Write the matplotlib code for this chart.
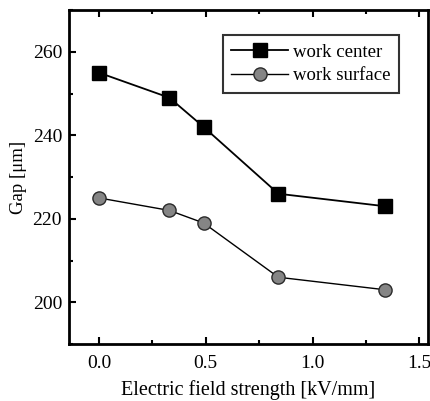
import matplotlib
matplotlib.use("Agg")
import matplotlib.pyplot as plt
from matplotlib.ticker import MultipleLocator

plt.rcParams['font.family'] = ['Liberation Serif', 'DejaVu Serif']

field_center = [0.0, 0.33, 0.49, 0.84, 1.34]
gap_center = [255, 249, 242, 226, 223]
field_surface = [0.0, 0.33, 0.49, 0.84, 1.34]
gap_surface = [225, 222, 219, 206, 203]

fig = plt.figure(figsize=(4.31, 4.01), dpi=100)
ax = fig.add_axes([0.160, 0.142, 0.833, 0.833])

ax.plot(field_center, gap_center, color='black', lw=1.3, marker='s',
        ms=9.5, mfc='black', mec='black', label='work center')
ax.plot(field_surface, gap_surface, color='black', lw=1.0, marker='o',
        ms=9.5, mfc='#858585', mec='#2a2a2a', mew=1.0, label='work surface')

ax.set_xlim(-0.14, 1.54)
ax.set_ylim(190, 270)
ax.xaxis.set_minor_locator(MultipleLocator(0.25))
ax.yaxis.set_major_locator(MultipleLocator(20))
ax.yaxis.set_minor_locator(MultipleLocator(10))
ax.set_xticks([0.0, 0.5, 1.0, 1.5])
ax.set_xticklabels(['0.0', '0.5', '1.0', '1.5'])

ax.tick_params(which='both', direction='in', top=True, right=False,
               labelsize=14, width=1.5)
ax.tick_params(which='major', length=5)
ax.tick_params(which='minor', length=3)
ax.tick_params(axis='x', pad=8)
ax.tick_params(axis='y', pad=5)
for s in ax.spines.values():
    s.set_linewidth(2.0)

ax.set_xlabel('Electric field strength [kV/mm]', fontsize=14.5, labelpad=6)
ax.set_ylabel('Gap [μm]', fontsize=13.5, labelpad=4)

leg = ax.legend(loc='upper right', bbox_to_anchor=(0.92, 0.925), fontsize=13.5,
                frameon=True, fancybox=False, edgecolor='black',
                handlelength=3.0, borderpad=0.45, labelspacing=0.35,
                handletextpad=0.3, borderaxespad=0.0)
leg.get_frame().set_linewidth(1.5)

fig.savefig('out.png', dpi=100)
